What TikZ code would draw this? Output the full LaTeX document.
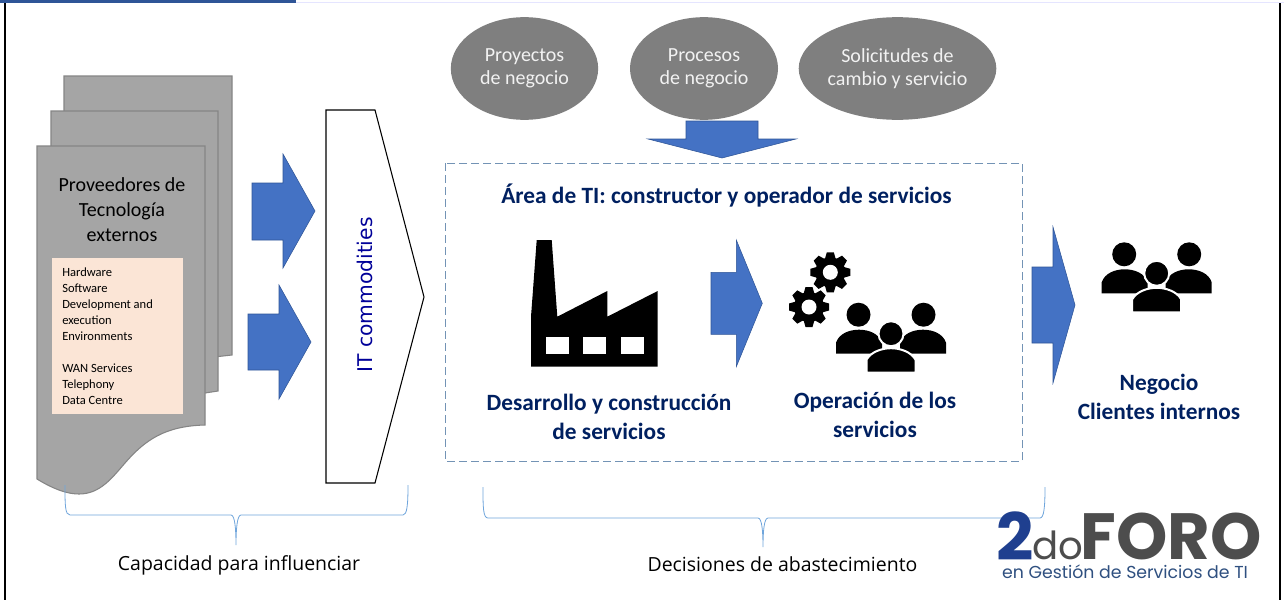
\documentclass[tikz,border=0pt]{standalone}
\usepackage{fontspec}
\setmainfont{Carlito}
\newfontfamily\itfont{DejaVu Sans}
\newfontfamily\capfont{Open Sans}
\newfontfamily\logofont{Poppins}
\usetikzlibrary{shapes.geometric}

\definecolor{arrowblue}{HTML}{4472C4}
\definecolor{arrowedge}{HTML}{2F5597}
\definecolor{navy}{HTML}{002060}
\definecolor{pagegray}{HTML}{A5A5A5}
\definecolor{pageedge}{HTML}{858585}
\definecolor{ovalgray}{HTML}{7F7F7F}
\definecolor{peach}{HTML}{FBE5D6}
\definecolor{boxdash}{HTML}{7393B5}
\definecolor{bracesky}{HTML}{6FA5DC}
\definecolor{itblue}{HTML}{000099}
\definecolor{logoblue}{HTML}{1F3F8F}
\definecolor{logogray}{HTML}{4D4D4D}
\definecolor{logotext}{HTML}{2F5080}

\tikzset{
  bluearrow/.style={fill=arrowblue,draw=arrowedge,line width=0.4pt},
  docpage/.style={fill=pagegray,draw=pageedge,line width=0.8pt},
  oval/.style={ellipse,fill=ovalgray,inner sep=0pt,text=white!95!black,align=center,
    font=\fontsize{15}{17.25}\selectfont},
  navylabel/.style={text=navy,align=center,font=\bfseries\fontsize{17.5}{21.75}\selectfont},
  bracket/.style={draw=bracesky,line width=0.6pt},
  caption/.style={font=\capfont\fontsize{14.6}{18}\selectfont},
  pics/cog/.style={code={
    \fill (0,0) circle (15);
    \foreach \a in {0,45,...,315}
      \fill[rotate=\a] (-5.5,-13) -- (-3.5,-20) -- (3.5,-20) -- (5.5,-13) -- cycle;
    \fill[white] (0,0) circle (7.5);
  }},
  pics/crowd/.style={code={
    \foreach \s in {-1,1} {
      \fill (\s*32.5,-19) circle (12);
      \fill (\s*55,20) -- (\s*55,9) .. controls (\s*52,0) and (\s*42,-4) .. (\s*32,-4)
        .. controls (\s*22,-4) and (\s*12,0) .. (\s*9,9) -- (\s*9,20) -- cycle;
    }
    \filldraw[draw=white,line width=1.5pt] (0,0) circle (12.5);
    \filldraw[draw=white,line width=1.5pt] (-24.5,39) -- (-24.5,26) .. controls (-20,18) and (-9,14.5) .. (0,14.5)
      .. controls (9,14.5) and (20,18) .. (24.5,26) -- (24.5,39) -- cycle;
  }}
}

\begin{document}
\begin{tikzpicture}[x=0.75pt,y=-0.75pt]
    \useasboundingbox (0,0) rectangle (1284,600);
    \fill[white] (0,0) rectangle (1284,600);
    % frame
    \fill[blue!10!white] (296,1.5) rectangle (1284,3);
    \fill[arrowedge] (0,0) rectangle (296,2.5);
    \fill[black] (4,2.5) rectangle (6,600);
    \fill[black] (1279,2.5) rectangle (1281,600);
    % provider sheets
    \draw[docpage] (64,76) -- (232,76) -- (232,355) -- (205,358) -- (64,400) -- cycle;
    \draw[docpage] (51,111) -- (218,111) -- (218,391) -- (205,393) -- (51,430) -- cycle;
    \draw[docpage] (37,146) -- (205,146) -- (205,425)
      .. controls (165,426) and (145,440) .. (125,463)
      .. controls (112,478) and (100,494) .. (79,494)
      .. controls (68,494) and (55,490) .. (37,479) -- cycle;
    \node (proveedores) at (122,210) [align=center,font=\fontsize{15}{18.75}\selectfont]
      {Proveedores de\\Tecnología\\externos};
    \fill[peach] (52,258) rectangle (183,414);
    \node (servicios) at (62,336) [anchor=west,align=left,inner sep=0pt,font=\fontsize{9.4}{12}\selectfont]
      {Hardware\\Software\\Development and\\execution\\Environments\\\mbox{}\\WAN Services\\Telephony\\Data Centre};
    % arrows into commodities
    \draw[bluearrow] (252,183) -- (283,183) -- (283,154) -- (315,211) -- (283,268) -- (283,240) -- (252,240) -- cycle;
    \draw[bluearrow] (248,314) -- (279,314) -- (279,285) -- (311,342) -- (279,399) -- (279,370) -- (248,370) -- cycle;
    % commodities
    \draw[black,line width=0.8pt] (326,110) -- (375,110) -- (424,297) -- (375,483) -- (326,483) -- cycle;
    \node (commodities) at (365,295) [rotate=90,text=itblue,font=\itfont\fontsize{15.2}{18}\selectfont] {IT commodities};
    % demand ovals
    \node (proyectos) at (524.5,68.5) [oval,minimum width=110.5pt,minimum height=77pt] {Proyectos\\de negocio};
    \node (procesos) at (704,68.5) [oval,minimum width=111pt,minimum height=77pt] {Procesos\\de negocio};
    \node (solicitudes) at (897.5,68.5) [oval,minimum width=136pt,minimum height=77pt] {Solicitudes de\\cambio y servicio};
    \draw[bluearrow] (686,121) -- (758,121) -- (758,139) -- (796,139) -- (722,158) -- (648,139) -- (686,139) -- cycle;
    % IT area
    \draw[boxdash,dashed,line width=0.7pt,dash pattern=on 6pt off 3pt] (445,163) rectangle (1022,461);
    \node (area) at (726.5,196) [text=navy,font=\bfseries\fontsize{17.5}{21}\selectfont]
      {Área de TI: constructor y operador de servicios};
    % factory
    \fill[black] (531,366.7) -- (657.7,366.7) -- (657.7,291) -- (607.3,316.7) -- (607.3,291) -- (557.3,316.7)
      -- (551.7,240) -- (536.7,240) -- (531,316.7) -- cycle;
    \foreach \wx in {546.3,583.3,621}
      \fill[white] (\wx,337) rectangle (\wx+22.7,354.3);
    \draw[bluearrow] (711,272.3) -- (736.3,272.3) -- (736.3,240) -- (762.3,303.3) -- (736.3,366.7) -- (736.3,334.3) -- (711,334.3) -- cycle;
    % operation
    \pic at (830.3,272.3) {cog};
    \pic at (809,307) {cog};
    \pic at (891,333.7) {crowd};
    \node (desarrollo) at (609,416.5) [navylabel] {Desarrollo y construcción\\de servicios};
    \node (operacion) at (875,415) [navylabel] {Operación de los\\servicios};
    % business
    \draw[bluearrow] (1032,267) -- (1053,267) -- (1053,227) -- (1075,305) -- (1053,383) -- (1053,343) -- (1032,343) -- cycle;
    \pic at (1156.7,273.3) {crowd};
    \node (negocio) at (1159,397) [navylabel] {Negocio\\Clientes internos};
    % braces
    \draw[bracket] (65,485) .. controls (65,505) and (65,515) .. (70,515) -- (231,515)
      .. controls (235,515) and (236,530) .. (236,545) .. controls (236,530) and (237,515) .. (241,515)
      -- (403,515) .. controls (407,515) and (408,505) .. (408,485);
    \draw[bracket] (483,487) .. controls (483,507) and (483,518) .. (488,518) -- (758,518)
      .. controls (762,518) and (763,532) .. (763,547) .. controls (763,532) and (764,518) .. (768,518)
      -- (1040,518) .. controls (1044,518) and (1045,507) .. (1045,487);
    \node (capacidad) at (239,565) [caption] {Capacidad para influenciar};
    \node (decisiones) at (782.5,564) [caption] {Decisiones de abastecimiento};
    % logo
    \node (logodos) at (1015,536) [text=logoblue,inner sep=0pt,font=\logofont\bfseries\fontsize{49}{49}\selectfont] {2};
    \node (logodo) at (1057.5,545) [text=logogray,inner sep=0pt,font=\logofont\fontsize{29}{29}\selectfont] {do};
    \node (logoforo) at (1171,536) [text=logogray,inner sep=0pt,font=\logofont\bfseries\fontsize{49}{49}\selectfont] {FORO};
    \node (logosub) at (1125,572) [text=logotext,inner sep=0pt,font=\logofont\fontsize{13}{15}\selectfont] {en Gestión de Servicios de TI};
  \end{tikzpicture}
\end{document}
